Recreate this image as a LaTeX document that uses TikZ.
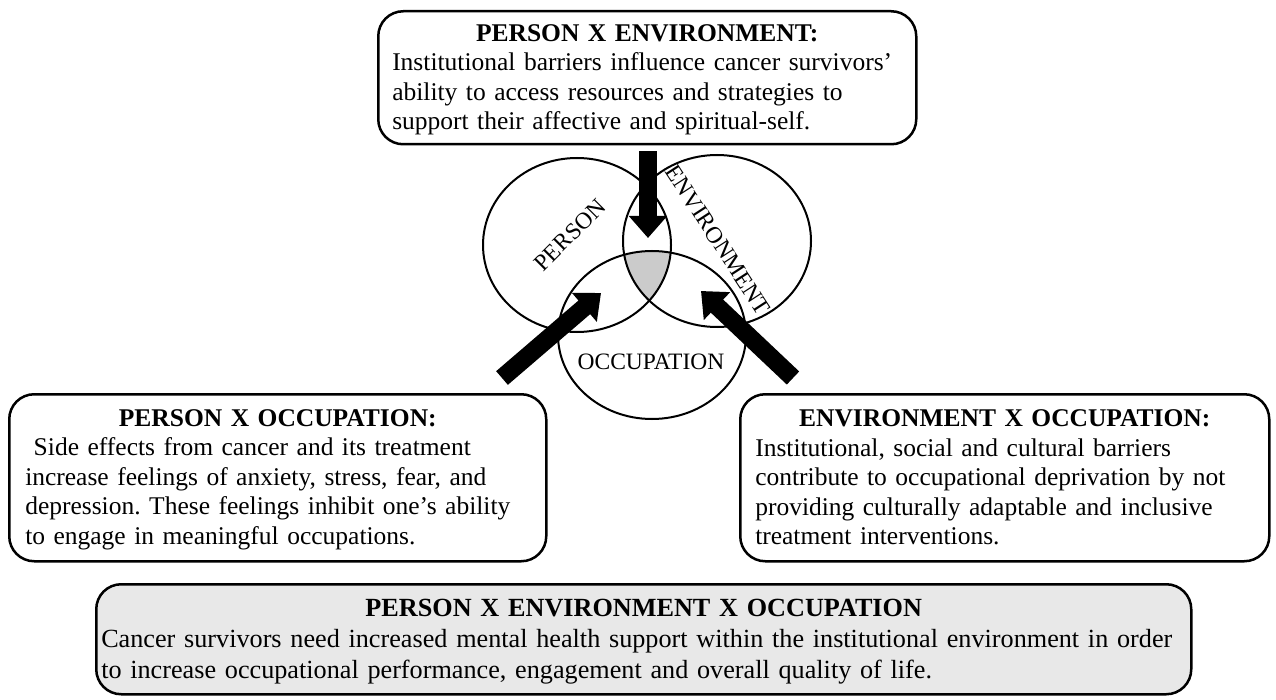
\documentclass[tikz,border=0pt]{standalone}
\usepackage{fontspec}
\setmainfont{Liberation Serif}
\usepackage{tikz}
\usetikzlibrary{arrows.meta}
\definecolor{CoreGray}{HTML}{CBCBCB}
\definecolor{SummaryGray}{HTML}{E8E8E8}
\newcommand{\boxfont}{\fontsize{25.5}{29.5}\selectfont\frenchspacing}
\newcommand{\sumfont}{\fontsize{26.2}{31}\selectfont\frenchspacing}
% fixed depth under the last line of a box
\newcommand{\lastdepth}{\rule[-5pt]{0pt}{5pt}}

\begin{document}
\begin{tikzpicture}[x=1pt,y=-1pt]
\tikzstyle{block}=[draw,line width=2.5pt,rounded corners=25pt,inner xsep=16pt,inner ysep=0pt,align=left,font=\boxfont,anchor=north west]
\tikzstyle{ring}=[line width=2pt]
\tikzstyle{vennlabel}=[inner sep=0pt,font=\fontsize{23.5}{26}\selectfont]
\tikzstyle{fat}=[line width=18pt,-{Triangle[length=22pt,width=37pt]}]
\useasboundingbox (0,0) rectangle (1276,700);

% the four text boxes
\node[block,inner xsep=14pt,minimum width=538pt,minimum height=133pt,text width=510pt] (pe) at (377,10)
  {{\centering\strut\bfseries PERSON X ENVIRONMENT:\par}
   Institutional barriers influence cancer survivors'\\
   ability to access resources and strategies to\\
   support their affective and spiritual-self.\lastdepth};
\node[block,minimum width=537pt,minimum height=167pt,text width=505pt] (po) at (8,393)
  {{\centering\strut\bfseries PERSON X OCCUPATION:\par}
   \ Side effects from cancer and its treatment\\
   increase feelings of anxiety, stress, fear, and\\
   depression. These feelings inhibit one's ability\\
   to engage in meaningful occupations.\lastdepth};
\node[block,inner xsep=15pt,minimum width=529pt,minimum height=167pt,text width=499pt] (eo) at (739,393)
  {{\centering\strut\bfseries ENVIRONMENT X OCCUPATION:\par}
   Institutional, social and cultural barriers\\
   contribute to occupational deprivation by not\\
   providing culturally adaptable and inclusive\\
   treatment interventions.\lastdepth};
\node[block,fill=SummaryGray,font=\sumfont,inner xsep=5pt,minimum width=1095pt,minimum height=110pt,text width=1085pt] (peo) at (95,583)
  {{\centering\strut\bfseries PERSON X ENVIRONMENT X OCCUPATION\par}
   Cancer survivors need increased mental health support within the institutional environment in order\\
   to increase occupational performance, engagement and overall quality of life.\lastdepth};

% venn diagram
\coordinate (P) at (577,245);
\coordinate (E) at (717,241);
\coordinate (O) at (652,335);
\begin{scope}
  \clip (P) ellipse [x radius=94, y radius=87];
  \clip (E) ellipse [x radius=94, y radius=86];
  \fill[CoreGray] (O) ellipse [x radius=94, y radius=84];
\end{scope}
\draw[ring] (P) ellipse [x radius=94, y radius=87];
\draw[ring] (E) ellipse [x radius=94, y radius=86];
\draw[ring] (O) ellipse [x radius=94, y radius=84];
\node[vennlabel,rotate=45] (person) at (570,235) {PERSON};
\node[vennlabel,rotate=-57] (environment) at (718,240) {ENVIRONMENT};
\node[vennlabel] (occupation) at (651,362) {OCCUPATION};

% arrows into the overlaps
\coordinate (pe tip) at (648,238);
\coordinate (po tail) at (502,378);
\coordinate (po tip) at (601,293);
\coordinate (eo tail) at (793,378);
\coordinate (eo tip) at (701,291);
\draw[fat,shorten <=6pt] (pe.south -| pe tip) -- (pe tip);
\draw[fat] (po tail) -- (po tip);
\draw[fat] (eo tail) -- (eo tip);
\end{tikzpicture}
\end{document}
